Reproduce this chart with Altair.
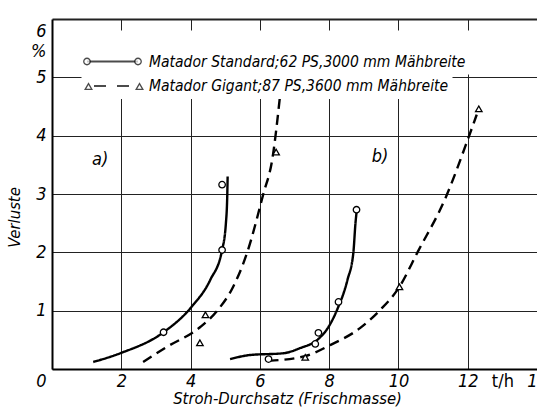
import altair as alt
import pandas as pd

FONT = "DejaVu Sans Condensed, DejaVu Sans, sans-serif"

series = ["Matador Standard;62 PS,3000 mm Mähbreite",
          "Matador Gigant;87 PS,3600 mm Mähbreite"]

# fitted curves
std_a_x = [1.19, 1.97, 3.22, 4.02, 4.57, 4.91, 5.02, 5.06, 5.07]
std_a_y = [0.12, 0.27, 0.63, 1.06, 1.53, 2.04, 2.50, 3.00, 3.30]
gig_a_x = [2.63, 3.32, 4.28, 4.77, 5.23, 5.63, 6.10, 6.36, 6.58]
gig_a_y = [0.12, 0.38, 0.72, 1.00, 1.41, 1.99, 3.00, 3.60, 4.67]
std_b_x = [5.14, 5.72, 6.68, 7.17, 7.66, 7.98, 8.24, 8.53, 8.70, 8.76, 8.79]
std_b_y = [0.17, 0.24, 0.27, 0.36, 0.50, 0.72, 1.03, 1.53, 2.00, 2.50, 2.68]
gig_b_x = [6.25, 7.30, 8.03, 8.89, 9.47, 10.03, 10.55, 11.35, 12.03, 12.26]
gig_b_y = [0.14, 0.22, 0.41, 0.70, 1.01, 1.41, 2.00, 2.92, 3.98, 4.36]

# measured points
std_pts_x = [3.22, 4.91, 4.91, 6.25, 7.60, 7.69, 8.27, 8.79]
std_pts_y = [0.63, 2.04, 3.16, 0.17, 0.43, 0.62, 1.15, 2.73]
gig_pts_x = [4.27, 4.43, 6.47, 7.31, 10.03, 12.32]
gig_pts_y = [0.45, 0.93, 3.72, 0.20, 1.41, 4.46]

ann_x = [1.39, 9.47]
ann_y = [3.59, 3.64]
ann_text = ["a)", "b)"]

x_ticks = [0, 2, 4, 6, 8, 10, 12, 13, 14]
y_ticks = [0, 1, 2, 3, 4, 5, 6]

rows = []
for cid, (xs, ys, s) in enumerate([(std_a_x, std_a_y, series[0]), (gig_a_x, gig_a_y, series[1]),
                                    (std_b_x, std_b_y, series[0]), (gig_b_x, gig_b_y, series[1])]):
    for xv, yv in zip(xs, ys):
        rows.append({"x": xv, "y": yv, "series": s, "curve": cid})
curves = pd.DataFrame(rows)

prow = []
for xs, ys, s in [(std_pts_x, std_pts_y, series[0]), (gig_pts_x, gig_pts_y, series[1])]:
    for xv, yv in zip(xs, ys):
        prow.append({"x": xv, "y": yv, "series": s})
pts = pd.DataFrame(prow)
ann = pd.DataFrame({"x": ann_x, "y": ann_y, "t": ann_text})

xaxis = alt.Axis(
    values=x_ticks,
    labelExpr="datum.value == 13 ? 't/h' : (datum.value == 0 ? '' : format(datum.value, 'd'))",
    gridOpacity={"condition": {"test": "datum.value == 13 || datum.value == 0", "value": 0}, "value": 1},
    labelFontStyle={"condition": {"test": "datum.value == 13", "value": "normal"}, "value": "italic"},
    title="Stroh-Durchsatz (Frischmasse)",
    titleX=235, titleY=34, titleBaseline="alphabetic", titleAnchor="middle",
    labelPadding=3, tickSize=0, labelFlush=False, labelOverlap=False,
)
yaxis = alt.Axis(
    values=y_ticks,
    labelExpr="datum.value == 6 ? ['6', '%'] : format(datum.value, 'd')",
    labelOffset={"condition": {"test": "datum.value == 0 || datum.value == 6", "value": 12}, "value": 0},
    gridWidth={"condition": {"test": "datum.value == 6", "value": 2}, "value": 1},
    labelLineHeight=20,
    title="Verluste", titleX=-30, titleY=198, titleAngle=-90,
    labelPadding=6, tickSize=0, labelFlush=False, labelOverlap=False,
)

X = alt.X("x:Q", scale=alt.Scale(domain=[0, 14], nice=False, zero=False), axis=xaxis)
Y = alt.Y("y:Q", scale=alt.Scale(domain=[0, 6], nice=False), axis=yaxis)

lines = alt.Chart(curves).mark_line(color="black", strokeWidth=2.4, interpolate="monotone").encode(
    x=X, y=Y, detail="curve:N",
    strokeDash=alt.StrokeDash("series:N", scale=alt.Scale(domain=series, range=[[1, 0], [10, 6]]), legend=None),
)

points = alt.Chart(pts).mark_point(fill="white", stroke="black", strokeWidth=1.3, size=42, opacity=1).encode(
    x="x:Q", y="y:Q",
    shape=alt.Shape("series:N", scale=alt.Scale(domain=series, range=["circle", "triangle-up"]), legend=None),
)

labels = alt.Chart(ann).mark_text(font=FONT, fontSize=18, fontStyle="italic", color="black").encode(
    x="x:Q", y="y:Q", text="t:N"
)


# ---- legend: one line-legend per row plus marker legends at both ends ----
# carrier layers: their own marks fall outside the y domain and are clipped away
def carrier(idx):
    return alt.Chart(pts).transform_filter(
        alt.datum.series == series[idx]
    ).transform_calculate(y="-100").mark_point(fill="white", stroke="black", clip=True)


def line_legend(idx, lx, ly, dash=None, fill=None):
    kw = dict(title=None, orient="none", legendX=lx, legendY=ly, padding=4,
              symbolSize=2601, symbolStrokeWidth=2.2, labelOffset=9.5,
              labelFont=FONT, labelFontSize=15.5, labelFontStyle="italic",
              labelColor="black", labelLimit=0)
    if dash is not None:
        kw.update(symbolDash=dash, symbolDashOffset=16)
    if fill is not None:
        kw.update(fillColor=fill)
    return carrier(idx).encode(
        x="x:Q", y="y:Q",
        shape=alt.Shape("series:N", scale=alt.Scale(domain=[series[idx]], range=["stroke"]),
                        legend=alt.Legend(**kw)),
    )


def marker_legend(idx, shape, size, lx, ly):
    return carrier(idx).encode(
        x="x:Q", y="y:Q",
        shape=alt.Shape("series:N", scale=alt.Scale(domain=[series[idx]], range=[shape]),
                        legend=alt.Legend(title=None, orient="none", legendX=lx, legendY=ly, padding=0,
                                          symbolSize=size, symbolStrokeWidth=1.3,
                                          labelExpr="''", labelFontSize=1, labelOffset=0)),
    )


leg_gig_line = line_legend(1, 29.5, 36, dash=[12, 11], fill="white")
leg_std_line = line_legend(0, 29.5, 11.5, fill="white")
leg_std_l = marker_legend(0, "circle", 42, 31, 38.5)
leg_std_r = marker_legend(0, "circle", 42, 82, 38.5)
leg_gig_l = marker_legend(1, "triangle-up", 45, 32, 63)
leg_gig_r = marker_legend(1, "triangle-up", 45, 83, 63)

chart = alt.layer(lines, points, labels, leg_gig_line, leg_std_line,
                  leg_std_l, leg_std_r, leg_gig_l, leg_gig_r).resolve_scale(
    shape="independent"
).properties(
    width=485, height=350,
    autosize=alt.AutoSizeParams(type="none"),
    padding={"left": 52, "top": 19, "right": 0, "bottom": 40},
    background="white",
).configure_view(stroke=None).configure_axis(
    domainColor="black", domainWidth=2, gridColor="#222", gridWidth=1,
    labelFont=FONT, labelFontSize=18, labelFontStyle="italic", labelColor="black",
    titleFont=FONT, titleFontSize=16.5, titleFontStyle="italic", titleFontWeight="normal", titleColor="black",
)

chart.save("out.html", embed_options={"renderer": "svg", "actions": False})
